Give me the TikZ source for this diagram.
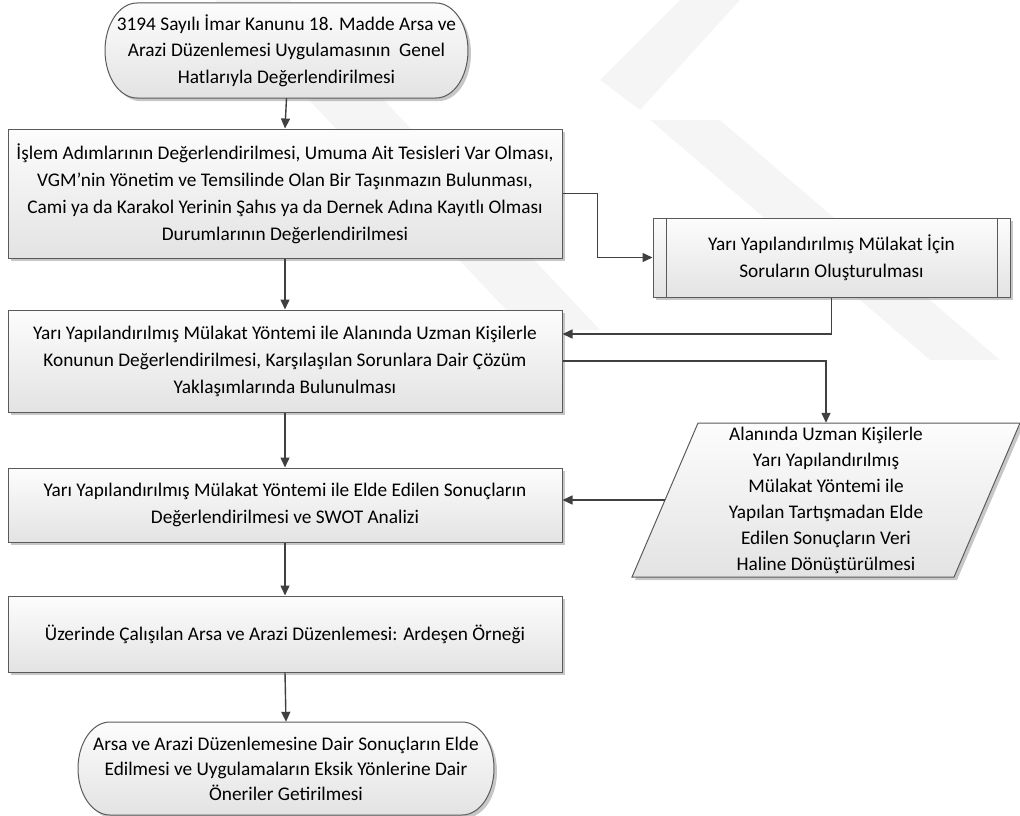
\documentclass[tikz,border=0pt]{standalone}
\usepackage{fontspec}
\setmainfont{Carlito}
\usetikzlibrary{shadows,arrows.meta,calc}
\definecolor{boxline}{HTML}{5A5A5A}
\definecolor{conncol}{HTML}{404040}
\definecolor{wm}{HTML}{F5F5F5}
\begin{document}
\begin{tikzpicture}[x=1pt,y=-1pt,
  font=\fontsize{19.3}{27}\selectfont,
  shade/.style={top color=black!1, bottom color=black!11},
  shad/.style={drop shadow={shadow xshift=3pt,shadow yshift=-3pt,fill=black!40,opacity=.55}},
  box/.style={draw=boxline, line width=1pt, shade, shad, align=center, inner sep=0pt, minimum width=554},
  txt/.style={align=center, inner sep=0pt},
  outline/.style={draw=boxline, line width=1pt, shade, shad},
  conn/.style={draw=conncol, line width=1.4pt, -{Triangle[length=10pt,width=9pt]}},
]
\useasboundingbox (0,0) rectangle (1020,816);
% watermark (faint)
\fill[wm] (215,0) -- (290,0) -- (600,330) -- (525,330) -- cycle;
\fill[wm] (600,80) -- (680,0) -- (740,0) -- (640,110) -- cycle;
\fill[wm] (650,120) -- (720,120) -- (1000,360) -- (930,360) -- cycle;

% top terminator outline
\path[outline] (137,3) -- (436,3) .. controls (453.7,3) and (468,24.3) .. (468,50.5) .. controls (468,76.7) and (453.7,98) .. (436,98) -- (137,98) .. controls (119.3,98) and (105,76.7) .. (105,50.5) .. controls (105,24.3) and (119.3,3) .. (137,3) -- cycle;
\node[txt, minimum width=363, minimum height=95, font=\fontsize{19.3}{26.5}\selectfont] (t1) at (286.5,50.5) {3194 Sayılı İmar Kanunu 18. Madde Arsa ve\\Arazi Düzenlemesi Uygulamasının~ Genel\\Hatlarıyla Değerlendirilmesi};

\node[box, minimum height=129] (b2) at (285,193.5) {İşlem Adımlarının Değerlendirilmesi, Umuma Ait Tesisleri Var Olması,\\VGM’nin Yönetim ve Temsilinde Olan Bir Taşınmazın Bulunması,\\Cami ya da Karakol Yerinin Şahıs ya da Dernek Adına Kayıtlı Olması\\Durumlarının Değerlendirilmesi};

\node[box, minimum width=357, minimum height=79] (p1) at (831.5,257.5) {Yarı Yapılandırılmış Mülakat İçin\\Soruların Oluşturulması};
\draw[boxline, line width=1pt] ([xshift=14pt]p1.north west) -- ([xshift=14pt]p1.south west);
\draw[boxline, line width=1pt] ([xshift=-13pt]p1.north east) -- ([xshift=-13pt]p1.south east);

\node[box, minimum height=102] (b3) at (285,361) {Yarı Yapılandırılmış Mülakat Yöntemi ile Alanında Uzman Kişilerle\\Konunun Değerlendirilmesi, Karşılaşılan Sorunlara Dair Çözüm\\Yaklaşımlarında Bulunulması};

% parallelogram
\path[outline] (632,577) -- (698,423) -- (1020,423) -- (954,577) -- cycle;
\node[txt, minimum width=388, minimum height=154, font=\fontsize{19.3}{26}\selectfont] (par) at (826,500) {Alanında Uzman Kişilerle\\Yarı Yapılandırılmış\\Mülakat Yöntemi ile\\Yapılan Tartışmadan Elde\\Edilen Sonuçların Veri\\Haline Dönüştürülmesi};
\coordinate (parW) at ([xshift=33pt]par.west);

\node[box, minimum height=74] (b4) at (285,505) {Yarı Yapılandırılmış Mülakat Yöntemi ile Elde Edilen Sonuçların\\Değerlendirilmesi ve SWOT Analizi};

\node[box, minimum height=76] (b5) at (285,634) {Üzerinde Çalışılan Arsa ve Arazi Düzenlemesi: Ardeşen Örneği};

% bottom terminator outline
\path[outline] (110,722) -- (462,722) .. controls (479.7,722) and (494,742.8) .. (494,768.5) .. controls (494,794.2) and (479.7,815) .. (462,815) -- (110,815) .. controls (92.3,815) and (78,794.2) .. (78,768.5) .. controls (78,742.8) and (92.3,722) .. (110,722) -- cycle;
\node[txt, minimum width=416, minimum height=93, font=\fontsize{19.3}{25}\selectfont] (t2) at (286,768.5) {Arsa ve Arazi Düzenlemesine Dair Sonuçların Elde\\Edilmesi ve Uygulamaların Eksik Yönlerine Dair\\Öneriler Getirilmesi};

% connectors
\draw[conn] (t1.south) -- (b2.north);
\draw[conn] (b2.east) -- ++(35,0) |- (p1.west);
\draw[conn] (b2.south) -- (b3.north);
\draw[conn] (p1.south) |- ([yshift=27pt]b3.east);
\draw[conn] (b3.east) -| (par.north);
\draw[conn] (b3.south) -- (b4.north);
\draw[conn] (parW) -- (parW -| b4.east);
\draw[conn] (b4.south) -- (b5.north);
\draw[conn] (b5.south) -- (t2.north);
\end{tikzpicture}
\end{document}
